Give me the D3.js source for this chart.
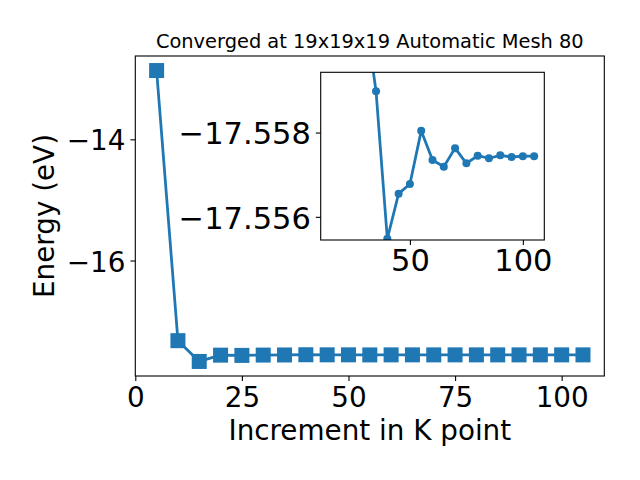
<!DOCTYPE html>
<html>
<head>
<meta charset="utf-8">
<script src="https://cdn.jsdelivr.net/npm/d3@7"></script>
<style>
  html, body { margin: 0; padding: 0; background: #fff; }
  svg { display: block; }
  text { font-family: "DejaVu Sans", sans-serif; fill: #000; }
</style>
</head>
<body>
<svg id="chart" width="640" height="480"></svg>
<script>
// ---------- data ----------
const kpoints = [5, 10, 15, 20, 25, 30, 35, 40, 45, 50, 55, 60, 65, 70, 75, 80, 85, 90, 95, 100, 105];
const energy = [-12.865, -17.323, -17.666, -17.562, -17.566, -17.5609, -17.55898, -17.55548, -17.55655,
                -17.55678, -17.55804, -17.55735, -17.55719, -17.55763, -17.55727, -17.55745, -17.55739,
                -17.55746, -17.55742, -17.55744, -17.55744];
const insetStartK = 15;               // inset plots the data from this k-point on
const insetYLimits = [-17.55943, -17.55545]; // inverted axis: top value, bottom value

const mainXTicks = [0, 25, 50, 75, 100];
const mainXTickLabels = ["0", "25", "50", "75", "100"];
const mainYTicks = [-14, -16];
const mainYTickLabels = ["\u221214", "\u221216"];
const insetXTicks = [50, 100];
const insetXTickLabels = ["50", "100"];
const insetYTicks = [-17.558, -17.556];
const insetYTickLabels = ["\u221217.558", "\u221217.556"];

const titleText = "Converged at 19x19x19 Automatic Mesh 80";
const xLabelText = "Increment in K point";
const yLabelText = "Energy (eV)";

// ---------- layout ----------
const color = "#1f77b4";
const M = { left: 135.3, right: 604.3, top: 56, bottom: 376 };
const I = { left: 320.7, right: 544.3, top: 72.3, bottom: 240 };
const tickLen = 4.9, tickPad = 4.9;

const svg = d3.select("#chart");

function padExtent(ext) {
  const r = ext[1] - ext[0];
  return [ext[0] - 0.05 * r, ext[1] + 0.05 * r];
}

const data = kpoints.map((k, i) => ({ k, e: energy[i] }));
const insetData = data.filter(d => d.k >= insetStartK);

// ---------- main axes ----------
const x = d3.scaleLinear().domain(padExtent(d3.extent(kpoints))).range([M.left, M.right]);
const y = d3.scaleLinear().domain(padExtent(d3.extent(energy))).range([M.bottom, M.top]);

svg.append("defs").append("clipPath").attr("id", "mainClip")
  .append("rect").attr("x", M.left).attr("y", M.top)
  .attr("width", M.right - M.left).attr("height", M.bottom - M.top);

const mainG = svg.append("g").attr("clip-path", "url(#mainClip)");
const line = d3.line().x(d => x(d.k)).y(d => y(d.e));
mainG.append("path").datum(data).attr("d", line)
  .attr("fill", "none").attr("stroke", color).attr("stroke-width", 2.78)
  .attr("stroke-linejoin", "round");
const ms = 15;
svg.append("g").selectAll("rect").data(data).join("rect")
  .attr("x", d => x(d.k) - ms / 2).attr("y", d => y(d.e) - ms / 2)
  .attr("width", ms).attr("height", ms).attr("fill", color);

// main frame
svg.append("rect").attr("x", M.left).attr("y", M.top)
  .attr("width", M.right - M.left).attr("height", M.bottom - M.top)
  .attr("fill", "none").attr("stroke", "#000").attr("stroke-width", 1.1);

// main axes ticks
const xAxis = d3.axisBottom(x).tickValues(mainXTicks)
  .tickFormat((d, i) => mainXTickLabels[i]).tickSizeInner(tickLen).tickSizeOuter(0).tickPadding(tickPad);
const gx = svg.append("g").attr("transform", `translate(0,${M.bottom})`).call(xAxis);
gx.select(".domain").remove();
gx.selectAll("line").attr("stroke", "#000").attr("stroke-width", 1.1);
gx.selectAll("text").attr("font-size", 27.8).attr("font-family", "DejaVu Sans").attr("dy", "0.75em");

const yAxis = d3.axisLeft(y).tickValues(mainYTicks)
  .tickFormat((d, i) => mainYTickLabels[i]).tickSizeInner(tickLen).tickSizeOuter(0).tickPadding(tickPad);
const gy = svg.append("g").attr("transform", `translate(${M.left},0)`).call(yAxis);
gy.select(".domain").remove();
gy.selectAll("line").attr("stroke", "#000").attr("stroke-width", 1.1);
gy.selectAll("text").attr("font-size", 27.8).attr("font-family", "DejaVu Sans").attr("dy", "0.38em");

// title and labels
svg.append("text").attr("x", (M.left + M.right) / 2).attr("y", 47.5)
  .attr("text-anchor", "middle").attr("font-size", 19.4).text(titleText);
svg.append("text").attr("x", (M.left + M.right) / 2).attr("y", 439.5)
  .attr("text-anchor", "middle").attr("font-size", 27.8).text(xLabelText);
svg.append("text").attr("transform", `translate(54,${(M.top + M.bottom) / 2}) rotate(-90)`)
  .attr("text-anchor", "middle").attr("font-size", 27.8).text(yLabelText);

// ---------- inset axes ----------
const xi = d3.scaleLinear().domain(padExtent(d3.extent(insetData, d => d.k))).range([I.left, I.right]);
const yi = d3.scaleLinear().domain(insetYLimits).range([I.top, I.bottom]);

svg.append("rect").attr("x", I.left).attr("y", I.top)
  .attr("width", I.right - I.left).attr("height", I.bottom - I.top).attr("fill", "#fff");

svg.select("defs").append("clipPath").attr("id", "insetClip")
  .append("rect").attr("x", I.left).attr("y", I.top)
  .attr("width", I.right - I.left).attr("height", I.bottom - I.top);

const insetG = svg.append("g").attr("clip-path", "url(#insetClip)");
const lineI = d3.line().x(d => xi(d.k)).y(d => yi(d.e));
insetG.append("path").datum(insetData).attr("d", lineI)
  .attr("fill", "none").attr("stroke", color).attr("stroke-width", 2.78)
  .attr("stroke-linejoin", "round");
insetG.selectAll("circle").data(insetData).join("circle")
  .attr("cx", d => xi(d.k)).attr("cy", d => yi(d.e)).attr("r", 4).attr("fill", color);

svg.append("rect").attr("x", I.left).attr("y", I.top)
  .attr("width", I.right - I.left).attr("height", I.bottom - I.top)
  .attr("fill", "none").attr("stroke", "#000").attr("stroke-width", 1.1);

const xAxisI = d3.axisBottom(xi).tickValues(insetXTicks)
  .tickFormat((d, i) => insetXTickLabels[i]).tickSizeInner(tickLen).tickSizeOuter(0).tickPadding(tickPad);
const gxi = svg.append("g").attr("transform", `translate(0,${I.bottom})`).call(xAxisI);
gxi.select(".domain").remove();
gxi.selectAll("line").attr("stroke", "#000").attr("stroke-width", 1.1);
gxi.selectAll("text").attr("font-size", 30.5).attr("font-family", "DejaVu Sans").attr("dy", "0.71em");

const yAxisI = d3.axisLeft(yi).tickValues(insetYTicks)
  .tickFormat((d, i) => insetYTickLabels[i]).tickSizeInner(tickLen).tickSizeOuter(0).tickPadding(tickPad);
const gyi = svg.append("g").attr("transform", `translate(${I.left},0)`).call(yAxisI);
gyi.select(".domain").remove();
gyi.selectAll("line").attr("stroke", "#000").attr("stroke-width", 1.1);
gyi.selectAll("text").attr("font-size", 30.5).attr("font-family", "DejaVu Sans").attr("dy", "0.37em");
</script>
</body>
</html>
